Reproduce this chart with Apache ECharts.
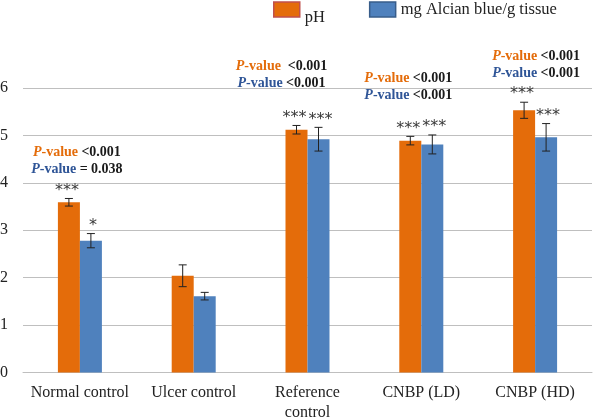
<!DOCTYPE html>
<html>
<head>
<meta charset="utf-8">
<script src="https://cdn.jsdelivr.net/npm/echarts@6/dist/echarts.min.js"></script>
<style>html,body{margin:0;padding:0;background:#fff}#c{width:596px;height:418px}</style>
</head>
<body>
<div id="c"></div>
<script>
const categories = ['Normal control', 'Ulcer control', 'Reference\ncontrol', 'CNBP (LD)', 'CNBP (HD)'];
const phValues = [3.59, 2.04, 5.12, 4.89, 5.53];
const phErrors = [0.08, 0.23, 0.09, 0.09, 0.17];
const alcianValues = [2.78, 1.61, 4.92, 4.81, 4.96];
const alcianErrors = [0.15, 0.08, 0.25, 0.20, 0.29];
const phStars = ['***', '', '***', '***', '***'];
const alcianStars = ['*', '', '***', '***', '***'];
const phPText = ['<0.001', null, ' <0.001', '<0.001', '<0.001'];
const alcianPText = ['= 0.038', null, '<0.001', '<0.001', '<0.001'];
const pAnchorY = [4.64, null, 6.46, 6.21, 6.67];
const yTicks = [0, 1, 2, 3, 4, 5, 6];

const ORANGE = '#e46c0a';
const BLUE = '#4f81bd';
const FONT = '"Liberation Serif", "Times New Roman", serif';
const BAR_W = 22;

const chart = echarts.init(document.getElementById('c'));

function errRender(values, errs, stars, side) {
  return function (params, api) {
    const i = api.value(0);
    const v = values[i], e = errs[i];
    const top = api.coord([i, v + e]);
    const bot = api.coord([i, v - e]);
    const x = top[0] + side * BAR_W / 2;
    const cap = 4;
    const st = { stroke: '#222', lineWidth: 1 };
    const children = [
      { type: 'line', shape: { x1: x, y1: top[1], x2: x, y2: bot[1] }, style: st },
      { type: 'line', shape: { x1: x - cap, y1: top[1], x2: x + cap, y2: top[1] }, style: st },
      { type: 'line', shape: { x1: x - cap, y1: bot[1], x2: x + cap, y2: bot[1] }, style: st }
    ];
    if (stars[i]) {
      children.push({ type: 'text', style: { text: stars[i], x: x + side * 2, y: top[1] - 8, align: 'center', verticalAlign: 'middle', font: '16px "DejaVu Sans", sans-serif', fill: '#3a3a3a' } });
    }
    return { type: 'group', children: children };
  };
}

const pOffsetX = [-3, 0, -26, -13, 1];

function pRender(params, api) {
  const i = api.value(0);
  if (pAnchorY[i] == null) return null;
  const p = api.coord([i, pAnchorY[i]]);
  const mk = (color, val, dy) => ({
    type: 'text',
    style: {
      x: p[0] + pOffsetX[i], y: p[1] + dy, align: 'center', verticalAlign: 'middle',
      text: '{p|P}{v|-value} {k|' + val + '}',
      rich: {
        p: { font: 'italic bold 14px ' + FONT, fill: color },
        v: { font: 'bold 14px ' + FONT, fill: color },
        k: { font: 'bold 14px ' + FONT, fill: '#1a1a1a' }
      }
    }
  });
  return { type: 'group', children: [mk(ORANGE, phPText[i], 0), mk('#2f5597', alcianPText[i], 17)] };
}

chart.setOption({
  animation: false,
  textStyle: { fontFamily: FONT },
  legend: {
    left: 273, top: 1, padding: 0,
    itemWidth: 26, itemHeight: 15, itemGap: 44,
    formatter: n => n === 'pH' ? '{low|pH}' : n,
    textStyle: { fontFamily: FONT, fontSize: 16.5, color: '#222', rich: { low: { fontFamily: FONT, fontSize: 16.5, padding: [16, 0, 0, 0] } } },
    data: [
      { name: 'pH', icon: 'rect', itemStyle: { color: ORANGE, borderColor: '#c0504d', borderWidth: 1.5 } },
      { name: 'mg Alcian blue/g tissue', icon: 'rect', itemStyle: { color: BLUE, borderColor: '#385d8a', borderWidth: 1.5 } }
    ]
  },
  grid: { left: 23, right: 4, top: 88, bottom: 45.5, outerBoundsMode: 'none', containLabel: false },
  xAxis: {
    type: 'category', data: categories,
    axisLine: { lineStyle: { color: '#bfbfbf' } },
    axisTick: { show: false },
    axisLabel: { fontFamily: FONT, fontSize: 16, color: '#222', margin: 10.5, lineHeight: 20, interval: 0 }
  },
  yAxis: {
    type: 'value', min: 0, max: 6, interval: 1,
    axisLine: { show: false }, axisTick: { show: false },
    splitLine: { lineStyle: { color: '#bfbfbf' } },
    axisLabel: { fontFamily: FONT, fontSize: 16, color: '#222', margin: 15, formatter: v => yTicks.includes(v) ? String(v) : '' }
  },
  series: [
    { name: 'pH', type: 'bar', data: phValues, barWidth: BAR_W, barGap: '0%', itemStyle: { color: ORANGE } },
    { name: 'mg Alcian blue/g tissue', type: 'bar', data: alcianValues, barWidth: BAR_W, itemStyle: { color: BLUE } },
    { type: 'custom', data: categories.map((c, i) => [i]), renderItem: errRender(phValues, phErrors, phStars, -1), z: 5, silent: true },
    { type: 'custom', data: categories.map((c, i) => [i]), renderItem: errRender(alcianValues, alcianErrors, alcianStars, 1), z: 5, silent: true },
    { type: 'custom', data: categories.map((c, i) => [i]), renderItem: pRender, z: 6, silent: true }
  ]
});
</script>
</body>
</html>
